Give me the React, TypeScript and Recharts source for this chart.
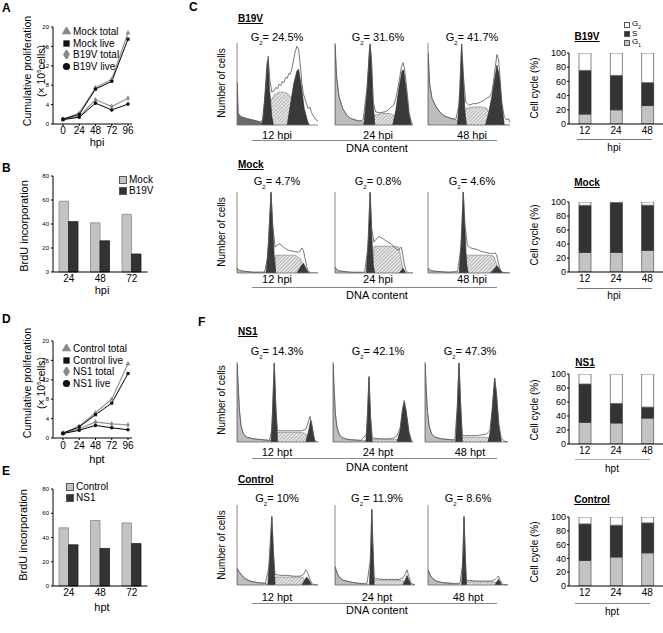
import React from 'react';
import { LineChart, Line, BarChart, Bar, ComposedChart, Area, XAxis, YAxis, Legend, Symbols } from 'recharts';

const FONT = '"Liberation Sans", Arial, Helvetica, sans-serif';

// ---------- Panel A / D : cumulative proliferation ----------
const HOURS = [0, 24, 48, 72, 96];
const MOCK_TOTAL = [1.0, 2.2, 7.5, 9.2, 18.8];
const MOCK_LIVE = [1.0, 2.0, 7.2, 8.8, 17.5];
const B19V_TOTAL = [1.0, 1.6, 5.0, 3.6, 5.3];
const B19V_LIVE = [0.9, 1.4, 4.3, 2.9, 4.1];
const CONTROL_TOTAL = [1.0, 2.4, 5.2, 8.0, 15.3];
const CONTROL_LIVE = [1.0, 2.3, 4.8, 7.2, 13.3];
const NS1_TOTAL = [1.0, 1.9, 3.3, 2.9, 2.7];
const NS1_LIVE = [0.9, 1.6, 2.6, 2.1, 1.7];
const PROLIF_TICKS = [0, 4, 8, 12, 16, 20];

// ---------- Panel B / E : BrdU ----------
const BRDU_CATS = ['24', '48', '72'];
const BRDU_MOCK = [59, 41, 48];
const BRDU_B19V = [42, 26, 15];
const BRDU_CONTROL = [48, 54, 52];
const BRDU_NS1 = [34, 31, 35];
const BRDU_TICKS = [0, 20, 40, 60, 80];

// ---------- Cell cycle stacked bars ----------
const CC_CATS = ['12', '24', '48'];
const CC_B19V_G1 = [14, 20, 26];
const CC_B19V_S = [61.5, 48.4, 32.3];
const CC_B19V_G2 = [24.5, 31.6, 41.7];
const CC_MOCK_G1 = [28, 28, 31];
const CC_MOCK_S = [67.3, 71.2, 64.4];
const CC_MOCK_G2 = [4.7, 0.8, 4.6];
const CC_NS1_G1 = [31, 30, 37];
const CC_NS1_S = [54.7, 27.9, 15.7];
const CC_NS1_G2 = [14.3, 42.1, 47.3];
const CC_CONTROL_G1 = [37, 42, 48];
const CC_CONTROL_S = [53, 46.1, 43.4];
const CC_CONTROL_G2 = [10, 11.9, 8.6];
const CC_TICKS = [0, 20, 40, 60, 80, 100];

// ---------- Histogram labels ----------
const B19V_G2_LABELS = ['24.5%', '31.6%', '41.7%'];
const MOCK_G2_LABELS = ['4.7%', '0.8%', '4.6%'];
const NS1_G2_LABELS = ['14.3%', '42.1%', '47.3%'];
const CONTROL_G2_LABELS = ['10%', '11.9%', '8.6%'];
const HPI_LABELS = ['12 hpi', '24 hpi', '48 hpi'];
const HPT_LABELS = ['12 hpt', '24 hpt', '48 hpt'];

// ---------- Histograms: [channel %, height %] ----------
const H_B19V_12 = {
  debris: [[0, 0], [0.3, 52], [1.5, 14], [5, 10], [12, 8], [20, 6], [28, 4], [34, 2], [40, 0]],
  s: [[40, 0], [42, 30], [46, 37], [52, 40], [58, 40], [63, 38], [68, 32], [72, 22], [76, 8], [79, 0]],
  g1: [[31, 0], [34, 30], [37, 75], [38.5, 80], [40, 45], [43, 10], [45, 0]],
  g2: [[62, 0], [66, 25], [70, 50], [74, 66], [76, 68], [79, 50], [83, 20], [87, 5], [89, 0]],
  total: [[0, 52], [1.5, 14], [5, 10], [12, 8], [20, 6], [28, 4], [32, 6], [35, 40], [38.5, 84], [40.5, 55], [43, 40], [46, 42], [48, 46], [50, 44], [52, 50], [54, 48], [56, 53], [58, 52], [60, 58], [62, 57], [64, 63], [66, 62], [68, 70], [70, 80], [72, 90], [74, 96], [76, 92], [78, 75], [80, 52], [82, 38], [85, 28], [88, 20], [90, 22], [92, 15], [95, 10], [98, 6], [100, 5]],
};
const H_B19V_24 = {
  debris: [[0, 0], [0.3, 98], [2, 60], [5, 35], [10, 20], [15, 12], [20, 8], [30, 5], [40, 3], [50, 2], [70, 1], [100, 0]],
  s: [[48, 0], [51, 12], [60, 14], [70, 14], [75, 12], [79, 4], [81, 0]],
  g1: [[37, 0], [41, 40], [44, 90], [45, 98], [46.5, 80], [49, 25], [51, 0]],
  g2: [[74, 0], [78, 18], [82, 45], [86, 66], [88, 67], [91, 45], [95, 12], [98, 0]],
  total: [[0, 98], [2, 60], [5, 35], [10, 20], [15, 12], [20, 8], [30, 5], [36, 6], [41, 45], [45, 99], [47, 75], [49, 28], [52, 16], [58, 15], [64, 16], [68, 18], [72, 22], [75, 24], [78, 32], [82, 52], [85, 70], [87, 76], [89, 70], [92, 45], [95, 15], [98, 3], [100, 1]],
};
const H_B19V_48 = {
  debris: [[0, 0], [0.3, 88], [2, 50], [5, 32], [10, 22], [15, 15], [20, 11], [28, 8], [34, 6], [40, 3], [60, 1], [100, 0]],
  s: [[43, 0], [46, 20], [55, 22], [65, 22], [72, 20], [76, 10], [79, 0]],
  g1: [[36, 0], [39, 45], [41, 98], [43, 60], [45, 15], [47, 0]],
  g2: [[70, 0], [74, 15], [78, 35], [82, 60], [84, 73], [87, 60], [90, 25], [93, 0]],
  total: [[0, 88], [2, 50], [5, 32], [10, 22], [15, 15], [20, 11], [28, 8], [34, 7], [38, 25], [41, 99], [43, 62], [46, 28], [50, 24], [55, 26], [60, 26], [64, 28], [68, 30], [72, 33], [75, 34], [78, 40], [81, 62], [84, 86], [86, 80], [88, 55], [90, 28], [93, 10], [96, 6], [98, 8], [100, 3]],
};
const H_MOCK_12 = {
  debris: [[0, 0], [0.3, 6], [3, 3], [10, 2], [20, 1], [35, 1], [40, 0]],
  s: [[45, 0], [48, 22], [60, 22], [72, 22], [78, 18], [82, 8], [85, 0]],
  g1: [[36, 0], [39, 40], [42, 99], [44, 60], [46, 20], [48, 0]],
  g2: [[74, 0], [77, 5], [80, 10], [82, 12], [84, 8], [87, 2], [89, 0]],
  total: [[0, 6], [3, 3], [10, 2], [20, 1], [34, 1], [38, 20], [42, 100], [44, 60], [47, 32], [50, 35], [53, 36], [56, 33], [60, 30], [64, 28], [68, 27], [72, 26], [76, 26], [78, 27], [80, 31], [82, 28], [84, 18], [86, 8], [88, 2], [92, 0], [100, 0]],
};
const H_MOCK_24 = {
  debris: [[0, 0], [0.3, 7], [3, 3], [10, 2], [20, 1], [38, 0]],
  s: [[48, 0], [50, 33], [62, 33], [75, 33], [82, 32], [85, 15], [88, 0]],
  g1: [[40, 0], [43, 45], [45, 99], [47, 50], [49, 10], [51, 0]],
  g2: [[82, 0], [85, 3], [87, 6], [89, 3], [91, 0]],
  total: [[0, 7], [3, 3], [10, 2], [20, 1], [38, 1], [42, 30], [45, 100], [47, 55], [50, 38], [53, 42], [56, 45], [59, 44], [62, 42], [65, 40], [68, 38], [72, 36], [75, 33], [78, 30], [81, 28], [83, 30], [85, 32], [87, 22], [89, 10], [91, 3], [94, 0], [100, 0]],
};
const H_MOCK_48 = {
  debris: [[0, 0], [0.3, 6], [3, 3], [10, 2], [25, 1], [38, 0]],
  s: [[45, 0], [48, 22], [60, 22], [72, 22], [80, 21], [84, 10], [87, 0]],
  g1: [[38, 0], [41, 45], [43, 100], [45, 55], [47, 12], [49, 0]],
  g2: [[76, 0], [80, 4], [84, 9], [87, 5], [90, 1], [92, 0]],
  total: [[0, 6], [3, 3], [10, 2], [25, 1], [36, 2], [40, 30], [43, 100], [45, 60], [48, 34], [52, 31], [56, 30], [60, 29], [64, 27], [68, 26], [72, 25], [76, 24], [79, 24], [82, 25], [84, 21], [86, 12], [88, 4], [91, 1], [100, 0]],
};
const H_NS1_12 = {
  debris: [[0, 0], [0.3, 98], [1.5, 70], [3, 40], [5, 20], [8, 10], [12, 6], [20, 4], [30, 3], [40, 2], [45, 0]],
  s: [[48, 0], [50, 12], [65, 12], [80, 12], [85, 10], [89, 0]],
  g1: [[42, 0], [44, 40], [46, 98], [48, 45], [50, 0]],
  g2: [[85, 0], [88, 12], [91, 27], [93, 18], [96, 0]],
  total: [[0, 98], [1.5, 70], [3, 40], [5, 20], [8, 10], [12, 6], [20, 4], [30, 3], [40, 2], [43, 15], [46, 99], [48, 40], [50, 14], [60, 14], [70, 14], [80, 14], [85, 16], [88, 25], [90, 32], [92, 25], [94, 10], [96, 2], [100, 0]],
};
const H_NS1_24 = {
  debris: [[0, 0], [0.3, 98], [1.5, 65], [3, 35], [5, 18], [8, 9], [12, 5], [20, 3], [35, 2], [45, 1], [55, 0]],
  s: [[47, 0], [49, 3], [65, 3], [80, 3], [84, 2], [86, 0]],
  g1: [[41, 0], [43, 30], [45, 81], [47, 30], [49, 0]],
  g2: [[80, 0], [84, 15], [87, 40], [89, 50], [91, 40], [95, 12], [98, 0]],
  total: [[0, 98], [1.5, 65], [3, 35], [5, 18], [8, 9], [12, 5], [20, 3], [35, 2], [42, 10], [45, 82], [47, 30], [49, 5], [60, 4], [70, 4], [76, 5], [80, 8], [84, 18], [87, 42], [89, 52], [91, 42], [95, 12], [98, 2], [100, 0]],
};
const H_NS1_48 = {
  debris: [[0, 0], [0.3, 98], [1.5, 65], [3, 38], [5, 20], [8, 10], [12, 6], [20, 4], [30, 3], [38, 1], [45, 0]],
  s: [[43, 0], [45, 6], [60, 6], [72, 6], [78, 5], [81, 0]],
  g1: [[37, 0], [39, 45], [41, 98], [43, 45], [45, 0]],
  g2: [[76, 0], [79, 15], [82, 55], [84, 79], [86, 60], [89, 20], [92, 0]],
  total: [[0, 98], [1.5, 65], [3, 38], [5, 20], [8, 10], [12, 6], [20, 4], [30, 3], [36, 3], [39, 45], [41, 99], [43, 45], [45, 8], [55, 8], [62, 8], [68, 9], [74, 10], [78, 14], [81, 40], [84, 80], [86, 62], [89, 22], [92, 4], [96, 1], [100, 0]],
};
const H_CONTROL_12 = {
  debris: [[0, 0], [0.3, 21], [3, 16], [6, 12], [10, 8], [16, 5], [25, 3], [35, 2], [40, 0]],
  s: [[45, 0], [47, 10], [60, 10], [75, 10], [82, 9], [86, 0]],
  g1: [[38, 0], [41, 40], [43, 85], [45, 40], [47, 0]],
  g2: [[80, 0], [83, 5], [86, 10], [89, 6], [92, 0]],
  total: [[0, 21], [3, 16], [6, 12], [10, 8], [16, 5], [25, 3], [35, 2], [39, 20], [43, 86], [45, 40], [47, 13], [55, 12], [62, 12], [70, 11], [78, 11], [82, 13], [85, 19], [87, 16], [90, 7], [93, 1], [100, 0]],
};
const H_CONTROL_24 = {
  debris: [[0, 0], [0.3, 23], [3, 14], [6, 9], [10, 6], [18, 4], [30, 2], [42, 0]],
  s: [[47, 0], [49, 6], [65, 6], [80, 6], [85, 5], [88, 0]],
  g1: [[43, 0], [45, 45], [46, 94], [47.5, 45], [49, 0]],
  g2: [[85, 0], [88, 7], [90, 12], [92, 7], [95, 0]],
  total: [[0, 23], [3, 14], [6, 9], [10, 6], [18, 4], [30, 2], [40, 2], [44, 30], [46, 95], [47.5, 45], [49, 8], [60, 7], [70, 7], [80, 7], [85, 9], [88, 14], [90, 19], [92, 12], [95, 2], [100, 0]],
};
const H_CONTROL_48 = {
  debris: [[0, 0], [0.3, 19], [3, 12], [6, 8], [10, 5], [18, 3], [30, 2], [40, 0]],
  s: [[46, 0], [48, 4], [65, 4], [80, 4], [86, 3], [89, 0]],
  g1: [[42, 0], [44, 40], [45, 85], [46.5, 40], [48, 0]],
  g2: [[84, 0], [86, 4], [88, 7], [90, 4], [92, 0]],
  total: [[0, 19], [3, 12], [6, 8], [10, 5], [18, 3], [30, 2], [40, 2], [43, 25], [45, 86], [46.5, 40], [48, 6], [60, 5], [70, 5], [80, 5], [84, 7], [87, 10], [88, 11], [90, 6], [93, 1], [100, 0]],
};
const HX_TICKS = [0, 4, 8, 12, 16, 20, 24, 28, 32, 36, 40, 44, 48, 52, 56, 60, 64, 68, 72, 76, 80, 84, 88, 92, 96, 100];
const HY_TICKS = [0, 10, 20, 30, 40, 50, 60, 70, 80, 90, 100];

// ---------- helpers ----------
type Hist = Record<string, number[][]>;
function merge(series: Hist) {
  const m = new Map<number, any>();
  Object.keys(series).forEach((k) => {
    series[k].forEach(([x, y]) => {
      const r = m.get(x) || { x };
      r[k] = y;
      m.set(x, r);
    });
  });
  return Array.from(m.values()).sort((a, b) => a.x - b.x);
}

function T({ x, y, s = 10, a = 'middle', b = false, r = false, u = false, c = '#000', children }: any) {
  const tx = a === 'middle' ? '-50%' : a === 'end' ? '-100%' : '0';
  return (
    <div
      style={{
        position: 'absolute', left: x, top: y, whiteSpace: 'nowrap', fontFamily: FONT, fontSize: s,
        fontWeight: b ? 'bold' : 'normal', textDecoration: u ? 'underline' : 'none', color: c, lineHeight: 1,
        transform: `translate(${tx}, -50%)${r ? ' rotate(-90deg)' : ''}`,
      }}
    >
      {children}
    </div>
  );
}

function HLine({ x1, x2, y, c = '#888' }: any) {
  return <div style={{ position: 'absolute', left: x1, top: y, width: x2 - x1, height: 1, background: c }} />;
}

function G2({ v }: { v: string }) {
  return (
    <span>
      G<sub style={{ fontSize: 6, verticalAlign: 'sub' }}>2</sub>= {v}
    </span>
  );
}

const SYMBOL_OF: Record<string, any> = {
  'Mock total': 'triangle', 'Mock live': 'square', 'B19V total': 'diamond', 'B19V live': 'circle',
  'Control total': 'triangle', 'Control live': 'square', 'NS1 total': 'diamond', 'NS1 live': 'circle',
};

function lineLegend(order: string[]) {
  return (props: any) => {
    const pl = [...(props.payload || [])].sort((a: any, b: any) => order.indexOf(a.value) - order.indexOf(b.value));
    return (
      <div style={{ fontFamily: FONT, fontSize: 10, whiteSpace: 'nowrap' }}>
        {pl.map((p: any) => (
          <div key={p.value} style={{ display: 'flex', alignItems: 'center', height: 11.5 }}>
            <svg width={9} height={9}>
              <Symbols cx={4.5} cy={4.5} type={SYMBOL_OF[p.value]} size={40} fill={p.color === '#999' ? '#888' : '#111'} stroke="none" />
            </svg>
            <span style={{ marginLeft: 2, color: '#000' }}>{p.value}</span>
          </div>
        ))}
      </div>
    );
  };
}

function boxLegend(order: string[], fs = 10, lh = 11, box = 8) {
  return (props: any) => {
    const pl = [...(props.payload || [])].sort((a: any, b: any) => order.indexOf(a.value) - order.indexOf(b.value));
    return (
      <div style={{ fontFamily: FONT, fontSize: fs, whiteSpace: 'nowrap' }}>
        {pl.map((p: any) => (
          <div key={p.value} style={{ display: 'flex', alignItems: 'center', height: lh }}>
            <div style={{ width: box, height: box, background: p.color, border: '1px solid #555', boxSizing: 'border-box' }} />
            <span style={{ marginLeft: 2, color: '#000' }}>
              {p.value.length === 2 ? (<>{p.value[0]}<sub style={{ fontSize: fs * 0.6 }}>{p.value[1]}</sub></>) : p.value}
            </span>
          </div>
        ))}
      </div>
    );
  };
}

const mkDot = (type: any, color: string) => (props: any) => {
  const { cx, cy, index } = props;
  if (cx == null || cy == null) return <g key={`e-${type}-${index}`} />;
  return <Symbols key={`${type}-${index}`} cx={cx} cy={cy} type={type} size={10} fill={color} stroke="none" />;
};

function ProlifChart({ top, names, vals, tickMargin, legendTop, mTop, mBottom }: any) {
  const data = HOURS.map((h, i) => {
    const r: any = { h };
    names.forEach((n: string, k: number) => (r[n] = vals[k][i]));
    return r;
  });
  const colors = ['#999', '#000', '#999', '#000'];
  const syms = ['triangle', 'square', 'diamond', 'circle'];
  const drawOrder = [0, 2, 1, 3];
  return (
    <div style={{ position: 'absolute', left: 0, top }}>
      <LineChart width={140} height={150} data={data} margin={{ top: mTop, right: 8, bottom: mBottom, left: 23 }}>
        <XAxis dataKey="h" type="number" domain={[0, 96]} ticks={HOURS} interval={0} padding={{ left: 10, right: 4 }}
          tickSize={2} tickMargin={tickMargin} height={20} stroke="#000" tick={{ fontSize: 10, fill: '#000', fontFamily: FONT }} />
        <YAxis type="number" domain={[0, 20]} ticks={PROLIF_TICKS} interval={0} width={30} tickSize={2} tickMargin={2}
          stroke="#000" tick={{ fontSize: 6, fill: '#000', fontFamily: FONT }} />
        <Legend layout="vertical" align="center" verticalAlign="middle" content={lineLegend(names)}
          wrapperStyle={{ left: 62, top: legendTop, width: 80, height: 'auto' }} />
        {drawOrder.map((k) => (
          <Line key={names[k]} dataKey={names[k]} name={names[k]} stroke={colors[k]} strokeWidth={k % 2 === 0 ? 1.3 : 1}
            dot={mkDot(syms[k], colors[k] === '#999' ? '#888' : '#111')} activeDot={false} isAnimationActive={false} type="linear" />
        ))}
      </LineChart>
    </div>
  );
}

function BrduChart({ top, marginTop, marginBottom, names, vals, legendPos }: any) {
  const data = BRDU_CATS.map((c, i) => ({ c, [names[0]]: vals[0][i], [names[1]]: vals[1][i] }));
  return (
    <div style={{ position: 'absolute', left: 0, top }}>
      <BarChart width={150} height={150} data={data} margin={{ top: marginTop, right: 2.5, bottom: marginBottom, left: 23 }}
        barGap={0} barSize={9.5}>
        <XAxis dataKey="c" tickSize={0} tickMargin={3} height={20} stroke="#000" interval={0}
          tick={{ fontSize: 10, fill: '#000', fontFamily: FONT }} />
        <YAxis type="number" domain={[0, 80]} ticks={BRDU_TICKS} interval={0} width={30} tickSize={2} tickMargin={2}
          stroke="#000" tick={{ fontSize: 6, fill: '#000', fontFamily: FONT }} />
        <Legend layout="vertical" align="center" verticalAlign="middle" content={boxLegend(names, 10, 11, 8)}
          wrapperStyle={{ left: legendPos[0], top: legendPos[1], width: 60, height: 'auto' }} />
        <Bar dataKey={names[0]} name={names[0]} fill="#c3c3c3" stroke="#888" strokeWidth={0.8} isAnimationActive={false} />
        <Bar dataKey={names[1]} name={names[1]} fill="#333" stroke="#222" strokeWidth={0.8} isAnimationActive={false} />
      </BarChart>
    </div>
  );
}

function CellCycle({ top, marginTop, marginBottom, g1, s, g2, legend }: any) {
  const data = CC_CATS.map((c, i) => ({ c, G1: g1[i], S: s[i], G2: g2[i] }));
  return (
    <div style={{ position: 'absolute', left: 520, top }}>
      <BarChart width={143} height={150} data={data} margin={{ top: marginTop, right: 0, bottom: marginBottom, left: 27 }}
        barSize={12}>
        <XAxis dataKey="c" tickSize={0} tickMargin={3} height={20} stroke="#000" interval={0}
          tick={{ fontSize: 10, fill: '#000', fontFamily: FONT }} />
        <YAxis type="number" domain={[0, 100]} allowDataOverflow ticks={CC_TICKS} interval={0} width={22} tickSize={2} tickMargin={1}
          stroke="#000" tick={{ fontSize: 9, fill: '#000', fontFamily: FONT }} />
        {legend && (
          <Legend layout="vertical" align="center" verticalAlign="middle" content={boxLegend(['G2', 'S', 'G1'], 8, 9, 6)}
            wrapperStyle={{ left: 104, top: 20, width: 30, height: 'auto' }} />
        )}
        <Bar dataKey="G1" name="G1" stackId="a" fill="#c3c3c3" stroke="#666" strokeWidth={0.8} isAnimationActive={false} />
        <Bar dataKey="S" name="S" stackId="a" fill="#333" stroke="#333" strokeWidth={0.8} isAnimationActive={false} />
        <Bar dataKey="G2" name="G2" stackId="a" fill="#fff" stroke="#666" strokeWidth={0.8} isAnimationActive={false} />
      </BarChart>
    </div>
  );
}

function Histo({ id, x0, x1, y0, y1, d, debrisColor = '#bdbdbd' }: any) {
  const w = x1 - x0;
  const h = y1 - y0;
  const data = merge(d);
  return (
    <div style={{ position: 'absolute', left: x0 - 3, top: y0 - 1 }}>
      <ComposedChart width={w + 4} height={h + 4} data={data} margin={{ top: 1, right: 1, bottom: 0, left: 0 }}>
        <defs>
          <pattern id={id} patternUnits="userSpaceOnUse" width="2.5" height="2.5" patternTransform="rotate(45)">
            <rect width="2.5" height="2.5" fill="#e4e4e4" />
            <line x1="0" y1="0" x2="0" y2="2.5" stroke="#8a8a8a" strokeWidth="0.9" />
          </pattern>
        </defs>
        <XAxis dataKey="x" type="number" domain={[0, 100]} allowDataOverflow ticks={HX_TICKS} interval={0} tick={false}
          tickSize={1.5} height={3} stroke="#666" strokeWidth={0.8} />
        <YAxis type="number" domain={[0, 100]} allowDataOverflow ticks={HY_TICKS} interval={0} tick={false}
          tickSize={1.5} width={3} stroke="#666" strokeWidth={0.8} />
        <Area dataKey="debris" type="linear" connectNulls fill={debrisColor} fillOpacity={1} stroke="#777" strokeWidth={0.6}
          dot={false} activeDot={false} isAnimationActive={false} />
        <Area dataKey="s" type="linear" connectNulls fill={`url(#${id})`} fillOpacity={1} stroke="#777" strokeWidth={0.6}
          dot={false} activeDot={false} isAnimationActive={false} />
        <Area dataKey="g1" type="linear" connectNulls fill="#3a3a3a" fillOpacity={1} stroke="#222" strokeWidth={0.6}
          dot={false} activeDot={false} isAnimationActive={false} />
        <Area dataKey="g2" type="linear" connectNulls fill="#3a3a3a" fillOpacity={1} stroke="#222" strokeWidth={0.6}
          dot={false} activeDot={false} isAnimationActive={false} />
        <Line dataKey="total" type="linear" connectNulls stroke="#555" strokeWidth={0.8} dot={false} activeDot={false}
          isAnimationActive={false} />
      </ComposedChart>
    </div>
  );
}

function HistRow({ prefix, title, titleY, g2Y, g2Labels, g2X, plotY0, plotY1, xs, hists, tLabels, tY, ulY, dnaY, ncY, debris0 }: any) {
  return (
    <>
      <T x={238} y={titleY} a="start" b u s={10}>{title}</T>
      {g2Labels.map((v: string, i: number) => (
        <T key={'g' + i} x={g2X[i]} y={g2Y} s={11}><G2 v={v} /></T>
      ))}
      {xs.map((r: number[], i: number) => (
        <Histo key={'h' + i} id={`${prefix}${i}`} x0={r[0]} x1={r[1]} y0={plotY0} y1={plotY1} d={hists[i]}
          debrisColor={i === 0 && debris0 ? debris0 : '#bdbdbd'} />
      ))}
      {tLabels.map((v: string, i: number) => (
        <T key={'t' + i} x={g2X[i]} y={tY} s={11}>{v}</T>
      ))}
      <HLine x1={252} x2={497} y={ulY} c="#888" />
      <T x={377} y={dnaY} s={11}>DNA content</T>
      <T x={222} y={ncY} s={10} r>Number of cells</T>
    </>
  );
}

export default function App() {
  return (
    <div style={{ position: 'absolute', left: 0, top: 0, width: 663, height: 633, background: '#fff', overflow: 'hidden', fontFamily: FONT }}>
      {/* Panel letters */}
      <T x={2} y={8} a="start" b s={12}>A</T>
      <T x={2} y={168} a="start" b s={12}>B</T>
      <T x={189} y={7} a="start" b s={12}>C</T>
      <T x={2} y={319} a="start" b s={12}>D</T>
      <T x={2} y={471} a="start" b s={12}>E</T>
      <T x={198} y={322} a="start" b s={12}>F</T>

      {/* A */}
      <ProlifChart top={0} names={['Mock total', 'Mock live', 'B19V total', 'B19V live']}
        vals={[MOCK_TOTAL, MOCK_LIVE, B19V_TOTAL, B19V_LIVE]} tickMargin={1} legendTop={26} mTop={27} mBottom={6} />
      <T x={27} y={71} s={10.5} r>Cumulative proliferation</T>
      <T x={41} y={71} s={10.5} r>(× 10<sup style={{ fontSize: 6 }}>5</sup>cells)</T>
      <T x={97} y={142} s={11}>hpi</T>

      {/* B */}
      <BrduChart top={150} marginTop={26} marginBottom={8} names={['Mock', 'B19V']} vals={[BRDU_MOCK, BRDU_B19V]} legendPos={[119, 24]} />
      <T x={24} y={226} s={11} r>BrdU incorporation</T>
      <T x={102} y={290} s={11}>hpi</T>

      {/* D */}
      <ProlifChart top={310} names={['Control total', 'Control live', 'NS1 total', 'NS1 live']}
        vals={[CONTROL_TOTAL, CONTROL_LIVE, NS1_TOTAL, NS1_LIVE]} tickMargin={2} legendTop={33} mTop={31} mBottom={2} />
      <T x={27} y={383} s={10.5} r>Cumulative proliferation</T>
      <T x={41} y={383} s={10.5} r>(× 10<sup style={{ fontSize: 6 }}>5</sup>cells)</T>
      <T x={97} y={459} s={11}>hpt</T>

      {/* E */}
      <BrduChart top={470} marginTop={19} marginBottom={14} names={['Control', 'NS1']} vals={[BRDU_CONTROL, BRDU_NS1]} legendPos={[66, 11]} />
      <T x={23} y={535} s={11} r>BrdU incorporation</T>
      <T x={102} y={607} s={11}>hpt</T>

      {/* C: B19V */}
      <HistRow prefix="hb" title="B19V" titleY={19} g2Y={39} g2Labels={B19V_G2_LABELS} g2X={[277, 378, 472]}
        plotY0={43} plotY1={125} xs={[[237, 318], [335, 413], [428, 510]]} hists={[H_B19V_12, H_B19V_24, H_B19V_48]}
        tLabels={HPI_LABELS} tY={135} ulY={140} dnaY={148} ncY={83} debris0="#6a6a6a" />
      {/* C: Mock */}
      <HistRow prefix="hm" title="Mock" titleY={165} g2Y={183} g2Labels={MOCK_G2_LABELS} g2X={[277, 378, 472]}
        plotY0={192} plotY1={273} xs={[[237, 318], [335, 413], [428, 510]]} hists={[H_MOCK_12, H_MOCK_24, H_MOCK_48]}
        tLabels={HPI_LABELS} tY={279} ulY={287} dnaY={295} ncY={232} />
      {/* F: NS1 */}
      <HistRow prefix="hn" title="NS1" titleY={332} g2Y={353} g2Labels={NS1_G2_LABELS} g2X={[277, 378, 470]}
        plotY0={362} plotY1={442} xs={[[237, 318], [333, 413], [425, 508]]} hists={[H_NS1_12, H_NS1_24, H_NS1_48]}
        tLabels={HPT_LABELS} tY={452} ulY={458} dnaY={467} ncY={400} />
      {/* F: Control */}
      <HistRow prefix="hc" title="Control" titleY={480} g2Y={500} g2Labels={CONTROL_G2_LABELS} g2X={[277, 377, 468]}
        plotY0={505} plotY1={585} xs={[[237, 318], [335, 415], [428, 508]]} hists={[H_CONTROL_12, H_CONTROL_24, H_CONTROL_48]}
        tLabels={HPT_LABELS} tY={597} ulY={603} dnaY={610} ncY={545} />

      {/* Cell cycle charts */}
      <CellCycle top={0} marginTop={53} marginBottom={6} g1={CC_B19V_G1} s={CC_B19V_S} g2={CC_B19V_G2} legend />
      <T x={587} y={37} b u s={10}>B19V</T>
      <T x={535} y={88} s={10} r>Cell cycle (%)</T>
      <HLine x1={577} x2={652} y={139} c="#777" />
      <T x={614} y={148} s={10}>hpi</T>

      <CellCycle top={150} marginTop={52} marginBottom={8} g1={CC_MOCK_G1} s={CC_MOCK_S} g2={CC_MOCK_G2} />
      <T x={587} y={183} b u s={10}>Mock</T>
      <T x={535} y={235} s={10} r>Cell cycle (%)</T>
      <HLine x1={577} x2={652} y={288} c="#777" />
      <T x={614} y={296} s={10}>hpi</T>

      <CellCycle top={320} marginTop={54} marginBottom={6} g1={CC_NS1_G1} s={CC_NS1_S} g2={CC_NS1_G2} />
      <T x={585} y={363} b u s={10}>NS1</T>
      <T x={535} y={410} s={10} r>Cell cycle (%)</T>
      <HLine x1={575} x2={650} y={459} c="#aaa" />
      <T x={612} y={469} s={10}>hpt</T>

      <CellCycle top={470} marginTop={47} marginBottom={14} g1={CC_CONTROL_G1} s={CC_CONTROL_S} g2={CC_CONTROL_G2} />
      <T x={592} y={500} b u s={10}>Control</T>
      <T x={535} y={552} s={10} r>Cell cycle (%)</T>
      <HLine x1={575} x2={650} y={603} c="#888" />
      <T x={612} y={612} s={10}>hpt</T>
    </div>
  );
}
